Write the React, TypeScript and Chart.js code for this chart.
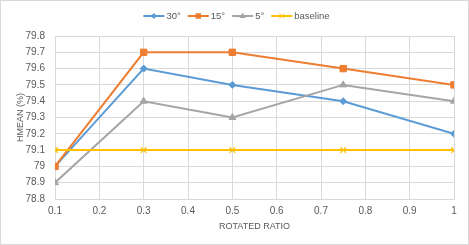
import React, { useEffect, useRef } from "react";
import { Chart, registerables } from "chart.js";

Chart.register(...registerables);

const ratios = [0.1, 0.3, 0.5, 0.75, 1];
const seriesNames = ["30°", "15°", "5°", "baseline"];
const values30 = [79.0, 79.6, 79.5, 79.4, 79.2];
const values15 = [79.0, 79.7, 79.7, 79.6, 79.5];
const values5 = [78.9, 79.4, 79.3, 79.5, 79.4];
const valuesBase = [79.1, 79.1, 79.1, 79.1, 79.1];

const colors = ["#5B9BD5", "#ED7D31", "#A5A5A5", "#FFC000"];
const styles: any[] = ["rectRot", "rect", "triangle", "crossRot"];
const radii = [3.5, 4.5, 4, 4];

const FONT = "'Liberation Sans', Arial, sans-serif";
const TEXT = "#595959";

function drawMarker(ctx: CanvasRenderingContext2D, style: string, x: number, y: number, r: number) {
  ctx.beginPath();
  if (style === "rectRot") {
    ctx.moveTo(x, y - r);
    ctx.lineTo(x + r, y);
    ctx.lineTo(x, y + r);
    ctx.lineTo(x - r, y);
    ctx.closePath();
    ctx.fill();
  } else if (style === "rect") {
    const s = Math.SQRT1_2 * r;
    ctx.rect(x - s, y - s, 2 * s, 2 * s);
    ctx.fill();
  } else if (style === "triangle") {
    ctx.moveTo(x, y - r);
    ctx.lineTo(x + r * 0.95, y + r * 0.6);
    ctx.lineTo(x - r * 0.95, y + r * 0.6);
    ctx.closePath();
    ctx.fill();
  } else {
    const s = Math.SQRT1_2 * r;
    ctx.moveTo(x - s, y - s);
    ctx.lineTo(x + s, y + s);
    ctx.moveTo(x + s, y - s);
    ctx.lineTo(x - s, y + s);
    ctx.stroke();
  }
}

const legendPlugin = {
  id: "customLegend",
  beforeDraw(chart: any) {
    const { ctx, width, height } = chart;
    ctx.save();
    ctx.fillStyle = "#ffffff";
    ctx.fillRect(0, 0, width, height);
    ctx.strokeStyle = "#d9d9d9";
    ctx.lineWidth = 1;
    ctx.strokeRect(0.5, 0.5, width - 1, height - 1);
    ctx.restore();
  },
  afterDraw(chart: any) {
    const { ctx } = chart;
    ctx.save();
    ctx.font = `9.5px ${FONT}`;
    ctx.textBaseline = "middle";
    const y = 16;
    const lineW = 21;
    const gap = 2;
    const itemGap = 7;
    const widths = chart.data.datasets.map(
      (d: any) => lineW + gap + ctx.measureText(d.label).width
    );
    const total = widths.reduce((a: number, b: number) => a + b, 0) + itemGap * (widths.length - 1);
    let x = (chart.width - total) / 2 + 2;
    chart.data.datasets.forEach((d: any, i: number) => {
      ctx.strokeStyle = d.borderColor;
      ctx.lineWidth = 2;
      ctx.beginPath();
      ctx.moveTo(x, y);
      ctx.lineTo(x + lineW, y);
      ctx.stroke();
      ctx.fillStyle = d.borderColor;
      ctx.strokeStyle = d.borderColor;
      ctx.lineWidth = 1;
      drawMarker(ctx, styles[i], x + lineW / 2, y, radii[i] * 0.85);
      ctx.fillStyle = TEXT;
      ctx.fillText(d.label, x + lineW + gap, y);
      x += widths[i] + itemGap;
    });
    ctx.restore();
  },
};

export default function App() {
  const ref = useRef<HTMLCanvasElement>(null);
  useEffect(() => {
    document.body.style.margin = "0";
    const all = [values30, values15, values5, valuesBase];
    const chart = new Chart(ref.current!, {
      type: "line",
      data: {
        datasets: all.map((vals, i) => ({
          label: seriesNames[i],
          data: ratios.map((r, j) => ({ x: r, y: vals[j] })),
          borderColor: colors[i],
          backgroundColor: colors[i],
          borderWidth: 2,
          pointStyle: styles[i],
          pointRadius: radii[i],
          pointBorderWidth: i === 3 ? 1.2 : 1,
          pointBorderColor: colors[i],
          pointBackgroundColor: colors[i],
          tension: 0,
          order: 4 - i,
        })),
      },
      options: {
        animation: false,
        responsive: false,
        maintainAspectRatio: false,
        layout: { padding: { top: 36, right: 15, left: 0, bottom: 0 } },
        plugins: { legend: { display: false }, tooltip: { enabled: false } },
        scales: {
          x: {
            type: "linear",
            min: 0.1,
            max: 1,
            ticks: {
              stepSize: 0.1,
              padding: 6,
              color: TEXT,
              font: { family: FONT, size: 10 },
              maxRotation: 0,
              callback: (v: any) => String(Math.round(Number(v) * 10) / 10),
            },
            grid: { color: "#d9d9d9", drawTicks: false },
            border: { color: "#d9d9d9" },
            title: {
              display: true,
              text: "ROTATED RATIO",
              color: TEXT,
              font: { family: FONT, size: 9 },
              padding: { top: 4, bottom: 13 },
            },
            afterFit: (s: any) => {
              s.height = 46;
            },
          },
          y: {
            min: 78.8,
            max: 79.8,
            ticks: {
              stepSize: 0.1,
              padding: 10,
              color: TEXT,
              font: { family: FONT, size: 10 },
              callback: (v: any) => String(Math.round(Number(v) * 10) / 10),
            },
            grid: { color: "#d9d9d9", drawTicks: false },
            border: { color: "#d9d9d9" },
            title: {
              display: true,
              text: "HMEAN (%)",
              color: TEXT,
              font: { family: FONT, size: 9 },
              padding: { top: 15, bottom: 0 },
            },
            afterFit: (s: any) => {
              s.width = 55;
            },
          },
        },
      },
      plugins: [legendPlugin],
    });
    return () => chart.destroy();
  }, []);
  return (
    <div style={{ width: 469, height: 245 }}>
      <canvas ref={ref} width={469} height={245} style={{ display: "block" }} />
    </div>
  );
}
